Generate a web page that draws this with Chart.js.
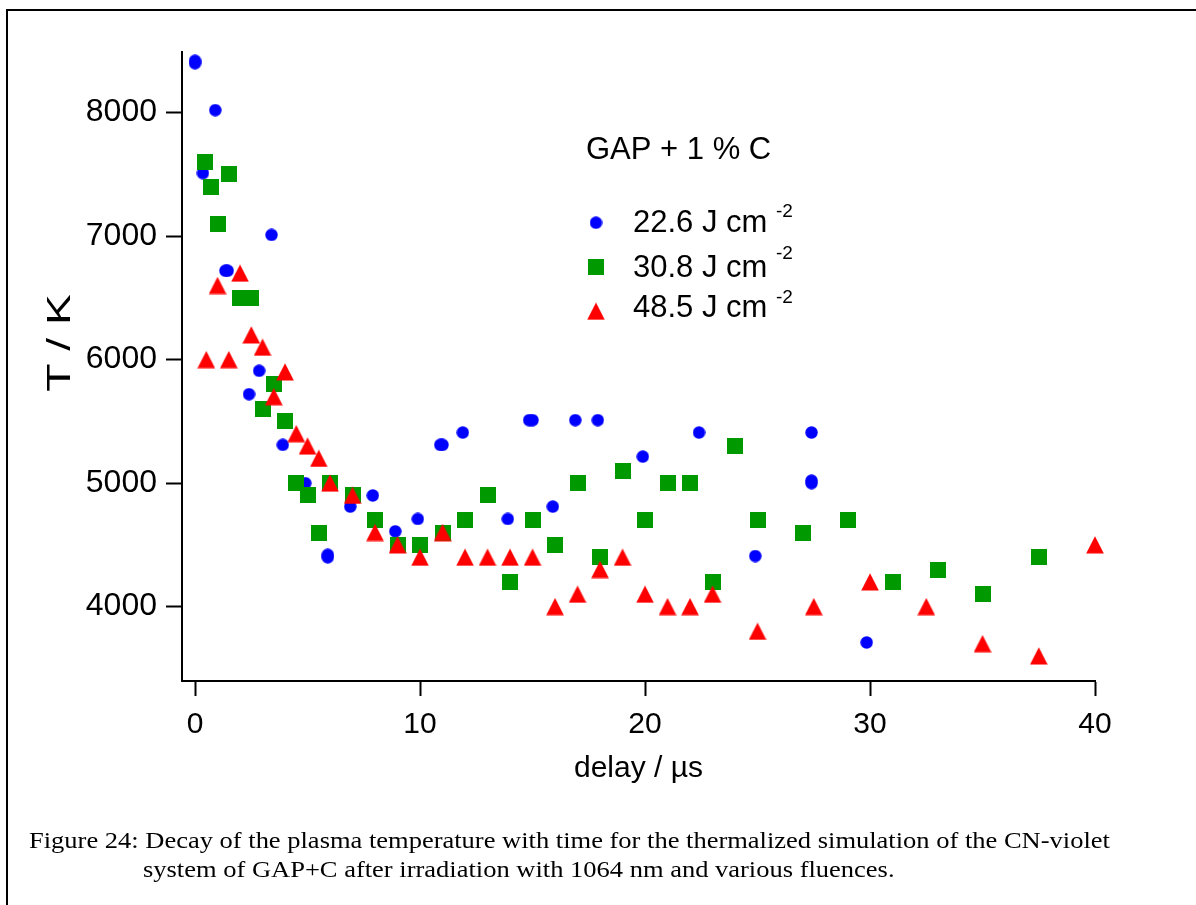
<!DOCTYPE html>
<html>
<head>
<meta charset="utf-8">
<title>Plasma temperature decay</title>
<script src="https://cdn.jsdelivr.net/npm/chart.js@4.4.1/dist/chart.umd.min.js"></script>
<style>
  html, body { margin: 0; padding: 0; background: #fff; }
  #wrap { position: relative; width: 1196px; height: 905px; overflow: hidden; }
  #frame { position: absolute; left: 6px; top: 9px; width: 1300px; height: 1000px;
           border-left: 2px solid #000; border-top: 2px solid #000; }
  #grafica { position: absolute; left: 0; top: 0; }
  .cap { position: absolute; color: #000; white-space: nowrap;
         font-family: "Liberation Serif", "Times New Roman", serif;
         font-size: 23px; line-height: 29px;
         transform: scaleX(1.152); transform-origin: 0 0; }
  #cap1 { left: 29px; top: 826px; }
  #cap2 { left: 143px; top: 855px; }
</style>
</head>
<body>
<div id="wrap">
  <div id="frame"></div>
  <canvas id="grafica" width="1196" height="905"></canvas>
  <div class="cap" id="cap1">Figure 24: Decay of the plasma temperature with time for the thermalized simulation of the CN-violet</div>
  <div class="cap" id="cap2">system of GAP+C after irradiation with 1064 nm and various fluences.</div>
</div>
<script>
// fluences of the three series (J cm-2)
const fluences = ['22.6', '30.8', '48.5'];
const legendTitle = 'GAP + 1 % C';
const xTitle = 'delay / µs';
const yTitle = 'T / K';
const xTicks = [0, 10, 20, 30, 40];
const yTicks = [4000, 5000, 6000, 7000, 8000];

// 22.6 J cm-2 (blue circles)
const delay226 = [0, 0, 0.35, 0.9, 1.35, 1.45, 2.4, 2.85, 3.4, 3.9, 4.9, 5.9, 5.9, 6.9, 7.9, 8.9, 9.9,
  10.9, 11.0, 11.9, 13.9, 14.85, 15.0, 15.9, 16.9, 17.9, 19.9, 22.4, 24.9, 27.4, 27.4, 27.4, 29.85];
const temp226 = [8400, 8420, 7510, 8020, 6720, 6720, 5720, 5910, 7010, 5310, 5000, 4400, 4420, 4810, 4900, 4610, 4710,
  5310, 5310, 5410, 4710, 5510, 5510, 4810, 5510, 5510, 5215, 5410, 4410, 5410, 5000, 5020, 3710];

// 30.8 J cm-2 (green squares)
const delay308 = [0.45, 0.7, 1.0, 1.5, 2.0, 2.5, 3.0, 3.5, 4.0, 4.5, 5.0, 5.5, 6.0, 7.0, 8.0, 9.0, 10.0, 11.0,
  12.0, 13.0, 14.0, 15.0, 16.0, 17.0, 18.0, 19.0, 20.0, 21.0, 22.0, 23.0, 24.0, 25.0, 27.0, 29.0, 31.0, 33.0, 35.0, 37.5];
const temp308 = [7600, 7400, 7100, 7500, 6500, 6500, 5600, 5800, 5500, 5000, 4900, 4600, 5000, 4900, 4700, 4500, 4500, 4600,
  4700, 4900, 4200, 4700, 4500, 5000, 4400, 5100, 4700, 5000, 5000, 4200, 5300, 4700, 4600, 4700, 4200, 4300, 4100, 4400];

// 48.5 J cm-2 (red triangles)
const delay485 = [0.5, 1.0, 1.5, 2.0, 2.5, 3.0, 3.5, 4.0, 4.5, 5.0, 5.5, 6.0, 7.0, 8.0, 9.0, 10.0, 11.0, 12.0,
  13.0, 14.0, 15.0, 16.0, 17.0, 18.0, 19.0, 20.0, 21.0, 22.0, 23.0, 25.0, 27.5, 30.0, 32.5, 35.0, 37.5, 40.0];
const temp485 = [6000, 6600, 6000, 6700, 6200, 6100, 5700, 5900, 5400, 5300, 5200, 5000, 4900, 4600, 4500, 4400, 4600, 4400,
  4400, 4400, 4400, 4000, 4100, 4300, 4400, 4100, 4000, 4000, 4100, 3800, 4000, 4200, 4000, 3700, 3600, 4500];

function puntos(xs, ys) {
  return xs.map((x, i) => ({ x: x, y: ys[i] }));
}

function marcador(tipo, color) {
  const c = document.createElement('canvas');
  const g = c.getContext('2d');
  if (tipo === 'circle') {
    c.width = 13; c.height = 13;
    g.fillStyle = color;
    g.beginPath(); g.arc(6.5, 6.5, 6.2, 0, Math.PI * 2); g.fill();
  } else if (tipo === 'square') {
    c.width = 16; c.height = 16;
    g.fillStyle = color;
    g.fillRect(0, 0, 16, 16);
  } else {
    c.width = 18; c.height = 18;
    g.fillStyle = color;
    g.beginPath(); g.moveTo(9, 0.3); g.lineTo(17.8, 17.6); g.lineTo(0.2, 17.6); g.closePath(); g.fill();
  }
  return c;
}

const mkBlue = marcador('circle', '#0000ff');
const mkGreen = marcador('square', '#009900');
const mkRed = marcador('triangle', '#ff0000');

const SANS = '"Liberation Sans", Arial, Helvetica, sans-serif';

// legend + axis titles drawn by hand (superscripts)
const textos = {
  id: 'textos',
  afterDraw(chart) {
    const c = chart.ctx;
    c.save();
    c.fillStyle = '#000';
    c.textAlign = 'left';
    c.textBaseline = 'alphabetic';
    c.font = '31px ' + SANS;
    c.fillText(legendTitle, 586, 159);

    const marks = [mkBlue, mkGreen, mkRed];
    const markY = [222.7, 267.3, 311.3];
    const textY = [231.7, 276.7, 316.7];
    const supY = [216.5, 259, 302.5];
    for (let i = 0; i < fluences.length; i++) {
      const m = marks[i];
      c.drawImage(m, 596 - m.width / 2, markY[i] - m.height / 2);
      c.font = '31px ' + SANS;
      c.fillText(fluences[i] + ' J cm', 633, textY[i]);
      c.font = '19px ' + SANS;
      c.fillText('-2', 776, supY[i]);
    }

    c.font = '30px ' + SANS;
    c.textAlign = 'center';
    c.fillText(xTitle, (chart.chartArea.left + chart.chartArea.right) / 2, 777);

    c.translate(70, 343);
    c.rotate(-Math.PI / 2);
    c.scale(1.4, 1);
    c.font = '33px ' + SANS;
    c.fillText(yTitle, 0, 0);
    c.restore();
  }
};

const ctx = document.getElementById('grafica').getContext('2d');
const ch = new Chart(ctx, {
  type: 'scatter',
  data: {
    datasets: [{
      label: fluences[0] + ' J cm-2',
      data: puntos(delay226, temp226),
      pointStyle: mkBlue,
      backgroundColor: '#0000ff',
      borderColor: '#0000ff',
      clip: false,
      order: 3
    }, {
      label: fluences[1] + ' J cm-2',
      data: puntos(delay308, temp308),
      pointStyle: mkGreen,
      backgroundColor: '#009900',
      borderColor: '#009900',
      clip: false,
      order: 2
    }, {
      label: fluences[2] + ' J cm-2',
      data: puntos(delay485, temp485),
      pointStyle: mkRed,
      backgroundColor: '#ff0000',
      borderColor: '#ff0000',
      clip: false,
      order: 1
    }]
  },
  options: {
    responsive: false,
    animation: false,
    layout: { padding: { top: 52, right: 101, left: 0, bottom: 0 } },
    plugins: {
      legend: { display: false },
      tooltip: { enabled: false }
    },
    scales: {
      x: {
        type: 'linear',
        min: -0.58,
        max: 40,
        afterBuildTicks: function(s) { s.ticks = xTicks.map(v => ({ value: v })); },
        afterFit: function(s) { s.height = 905 - 681; },
        grid: { display: true, drawOnChartArea: false, drawTicks: true, tickLength: 15, tickWidth: 2, tickColor: '#000' },
        border: { display: true, color: '#000', width: 2 },
        ticks: {
          color: '#000', font: { family: SANS, size: 30 }, padding: 11, maxRotation: 0,
          callback: function(value) { return String(value); }
        }
      },
      y: {
        type: 'linear',
        min: 3398,
        max: 8491,
        afterBuildTicks: function(s) { s.ticks = yTicks.map(v => ({ value: v })); },
        afterFit: function(s) { s.width = 182; },
        grid: { display: true, drawOnChartArea: false, drawTicks: true, tickLength: 16, tickWidth: 2, tickColor: '#000' },
        border: { display: true, color: '#000', width: 2 },
        ticks: {
          color: '#000', font: { family: SANS, size: 32 }, padding: 9,
          callback: function(value) { return String(value); }
        }
      }
    }
  },
  plugins: [textos]
});
</script>
</body>
</html>
